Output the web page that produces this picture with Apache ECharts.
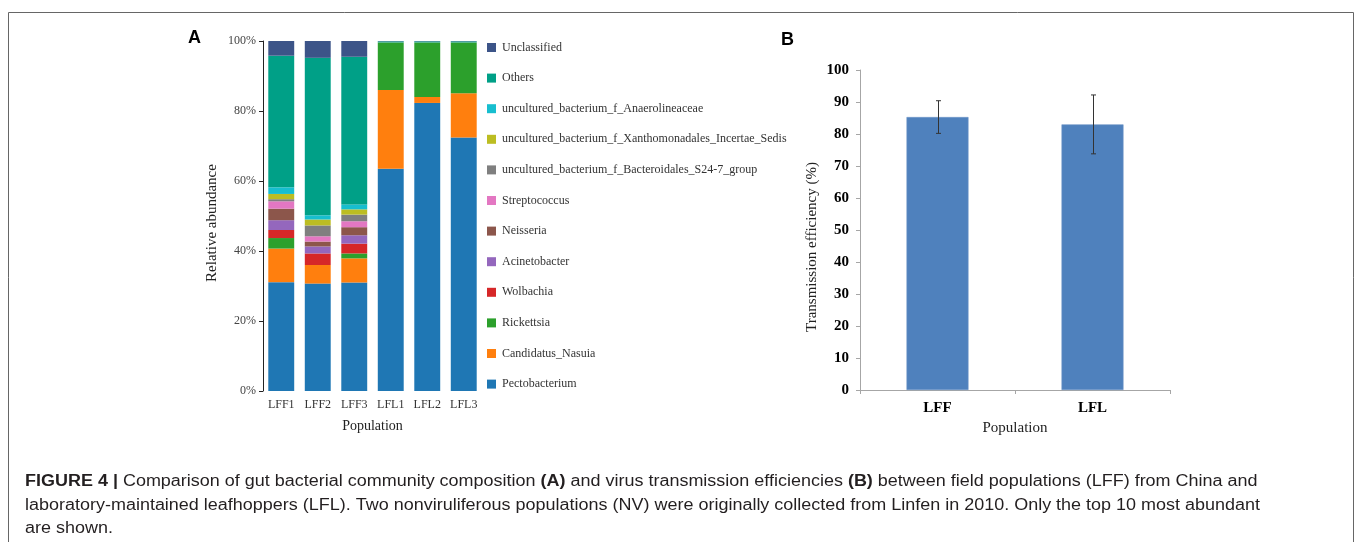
<!DOCTYPE html>
<html>
<head>
<meta charset="utf-8">
<script src="https://cdn.jsdelivr.net/npm/echarts@6/dist/echarts.min.js"></script>
<style>
html,body{margin:0;padding:0;background:#fff;}
#chart{width:1357px;height:542px;}
</style>
</head>
<body>
<div id="chart"></div>
<script>
// ---- Panel A data (relative abundance, %) ----
const samples = ['LFF1', 'LFF2', 'LFF3', 'LFL1', 'LFL2', 'LFL3'];
const pectobacterium   = [31.1, 30.7, 31.0, 63.5, 82.3, 72.4];
const candidatusNasuia = [9.6, 5.3, 6.9, 22.5, 1.7, 12.7];
const rickettsia       = [3.0, 0.0, 1.4, 13.6, 15.6, 14.5];
const wolbachia        = [2.3, 3.3, 2.8, 0, 0, 0];
const acinetobacter    = [2.8, 2.0, 2.4, 0, 0, 0];
const neisseria        = [3.3, 1.4, 2.3, 0, 0, 0];
const streptococcus    = [2.1, 1.5, 1.7, 0, 0, 0];
const bacteroidales    = [0.6, 3.1, 1.9, 0, 0, 0];
const xanthomonadales  = [1.5, 1.7, 1.5, 0, 0, 0];
const anaerolineaceae  = [1.9, 1.2, 1.4, 0, 0, 0];
const others           = [37.6, 45.0, 42.2, 0.3, 0.3, 0.3];
const unclassified     = [4.2, 4.8, 4.5, 0.1, 0.1, 0.1];
const percentTicks = ['0%', '20%', '40%', '60%', '80%', '100%'];

// ---- Panel B data (transmission efficiency, %) ----
const groups = ['LFF', 'LFL'];
const efficiency = [85.3, 83.0];
const efficiencyErr = [5.1, 9.2];

const taxa = [
  ['Pectobacterium', pectobacterium, '#1f77b4'],
  ['Candidatus_Nasuia', candidatusNasuia, '#ff7f0e'],
  ['Rickettsia', rickettsia, '#2ca02c'],
  ['Wolbachia', wolbachia, '#d62728'],
  ['Acinetobacter', acinetobacter, '#9467bd'],
  ['Neisseria', neisseria, '#8c564b'],
  ['Streptococcus', streptococcus, '#e377c2'],
  ['uncultured_bacterium_f_Bacteroidales_S24-7_group', bacteroidales, '#7f7f7f'],
  ['uncultured_bacterium_f_Xanthomonadales_Incertae_Sedis', xanthomonadales, '#bcbd22'],
  ['uncultured_bacterium_f_Anaerolineaceae', anaerolineaceae, '#17becf'],
  ['Others', others, '#00a087'],
  ['Unclassified', unclassified, '#3c5488']
];

const serif = '"Liberation Serif", "Times New Roman", serif';
const sans = '"Liberation Sans", Arial, sans-serif';

const captionLines = [
  'FIGURE 4 | Comparison of gut bacterial community composition (A) and virus transmission efficiencies (B) between field populations (LFF) from China and',
  'laboratory-maintained leafhoppers (LFL). Two nonviruliferous populations (NV) were originally collected from Linfen in 2010. Only the top 10 most abundant',
  'are shown.'
];
// horizontal scale so the caption spans the same width as in the figure
const mctx = document.createElement('canvas').getContext('2d');
mctx.font = '16px "Liberation Sans"';
const capScale = 1235 / mctx.measureText(captionLines[1]).width;

const chart = echarts.init(document.getElementById('chart'), null, {renderer: 'canvas'});

const seriesA = taxa.map(([name, vals, color]) => ({
  name: name,
  type: 'bar',
  stack: 'abund',
  xAxisIndex: 0,
  yAxisIndex: 0,
  barCategoryGap: '29%',
  itemStyle: {color: color},
  data: vals
}));

const captionStyle = {fontFamily: sans, fontSize: 16, fill: '#231f20'};

const option = {
  animation: false,
  textStyle: {fontFamily: serif},
  legend: {
    orient: 'vertical',
    left: 487,
    top: 40.5,
    padding: 0,
    itemWidth: 9,
    itemHeight: 9,
    itemGap: 16.6,
    icon: 'rect',
    selectedMode: false,
    itemStyle: {borderWidth: 0},
    data: taxa.map(t => t[0]).reverse(),
    textStyle: {fontFamily: serif, fontSize: 12, color: '#333', lineHeight: 14, padding: [0,0,0,1]}
  },
  grid: [
    {left: 263, top: 41, width: 219, height: 350},
    {left: 860, top: 70, width: 310, height: 320}
  ],
  xAxis: [
    {
      type: 'category', gridIndex: 0, data: samples,
      axisLine: {show: false}, axisTick: {show: false},
      axisLabel: {fontFamily: serif, fontSize: 12, color: '#333', margin: 8},
      name: 'Population', nameLocation: 'middle', nameGap: 28,
      nameTextStyle: {fontFamily: serif, fontSize: 14, color: '#222'}
    },
    {
      type: 'category', gridIndex: 1, data: groups,
      axisLine: {lineStyle: {color: '#a6a6a6', width: 1}},
      axisTick: {show: true, length: 4, lineStyle: {color: '#a6a6a6'}},
      axisLabel: {fontFamily: serif, fontSize: 15, fontWeight: 'bold', color: '#000', margin: 11},
      name: 'Population', nameLocation: 'middle', nameGap: 30,
      nameTextStyle: {fontFamily: serif, fontSize: 15, color: '#222'}
    }
  ],
  yAxis: [
    {
      type: 'value', gridIndex: 0, min: 0, max: 100, interval: 20,
      axisLine: {show: true, lineStyle: {color: '#222', width: 1}},
      axisTick: {show: true, length: 4, lineStyle: {color: '#222'}},
      splitLine: {show: false},
      axisLabel: {fontFamily: serif, fontSize: 12, color: '#444', margin: 7,
        formatter: v => percentTicks[Math.round(v / 20)]}
    },
    {
      type: 'value', gridIndex: 1, min: 0, max: 100, interval: 10,
      axisLine: {show: true, lineStyle: {color: '#a6a6a6', width: 1}},
      axisTick: {show: true, length: 4, lineStyle: {color: '#a6a6a6'}},
      splitLine: {show: false},
      axisLabel: {fontFamily: serif, fontSize: 15, fontWeight: 'bold', color: '#000', margin: 11}
    }
  ],
  series: seriesA.concat([
    {
      name: 'Transmission efficiency',
      type: 'bar', xAxisIndex: 1, yAxisIndex: 1,
      barWidth: '40%',
      itemStyle: {color: '#4f81bd', borderColor: '#6f96c8', borderWidth: 0.6},
      data: efficiency
    },
    {
      name: 'err',
      type: 'custom', xAxisIndex: 1, yAxisIndex: 1,
      data: efficiency.map((m, i) => [i, m - efficiencyErr[i], m + efficiencyErr[i]]),
      renderItem: function (params, api) {
        const lo = api.coord([api.value(0), api.value(1)]);
        const hi = api.coord([api.value(0), api.value(2)]);
        const x = Math.round(lo[0]) + 0.5, cap = 2.5;
        const st = {stroke: '#333', lineWidth: 1};
        return {type: 'group', children: [
          {type: 'line', shape: {x1: x, y1: lo[1], x2: x, y2: hi[1]}, style: st},
          {type: 'line', shape: {x1: x - cap, y1: lo[1], x2: x + cap, y2: lo[1]}, style: st},
          {type: 'line', shape: {x1: x - cap, y1: hi[1], x2: x + cap, y2: hi[1]}, style: st}
        ]};
      },
      z: 5
    }
  ]),
  graphic: [
    {type: 'rect', shape: {x: 8.5, y: 12.5, width: 1345, height: 600}, style: {fill: 'none', stroke: '#666', lineWidth: 1}, silent: true},
    {type: 'text', left: 188, top: 29, style: {text: 'A', fontFamily: sans, fontSize: 18, fontWeight: 'bold', fill: '#000'}},
    {type: 'text', left: 781, top: 31, style: {text: 'B', fontFamily: sans, fontSize: 18, fontWeight: 'bold', fill: '#000'}},
    {type: 'text', x: 212, y: 223, rotation: Math.PI / 2, style: {
      text: 'Relative abundance', fontFamily: serif, fontSize: 15, fill: '#222', align: 'center', verticalAlign: 'middle'}},
    {type: 'text', x: 812, y: 247, rotation: Math.PI / 2, style: {
      text: 'Transmission efficiency (%)', fontFamily: serif, fontSize: 15, fill: '#222', align: 'center', verticalAlign: 'middle'}},
    {type: 'text', x: 25, y: 482, scaleX: capScale, style: Object.assign({
      text: '{b|FIGURE 4 |} Comparison of gut bacterial community composition {b|(A)} and virus transmission efficiencies {b|(B)} between field populations (LFF) from China and',
      verticalAlign: 'middle',
      rich: {b: {fontFamily: sans, fontSize: 16, fontWeight: 'bold', fill: '#231f20'}}
    }, captionStyle)},
    {type: 'text', x: 25, y: 506, scaleX: capScale, style: Object.assign({
      text: captionLines[1], verticalAlign: 'middle'}, captionStyle)},
    {type: 'text', x: 25, y: 529, scaleX: capScale, style: Object.assign({
      text: captionLines[2], verticalAlign: 'middle'}, captionStyle)}
  ]
};
chart.setOption(option);
</script>
</body>
</html>
